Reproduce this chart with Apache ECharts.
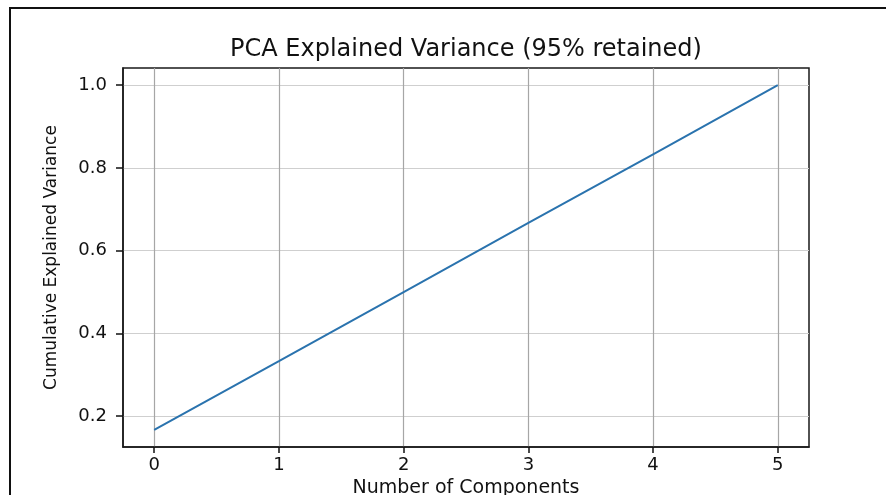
<!DOCTYPE html>
<html>
<head>
<meta charset="utf-8">
<title>PCA Explained Variance</title>
<script src="https://cdn.jsdelivr.net/npm/echarts@6/dist/echarts.min.js"></script>
<style>
  html, body { margin: 0; padding: 0; background: #fff; }
  #chart { width: 886px; height: 495px; }
</style>
</head>
<body>
<div id="chart"></div>
<script>
// Number of PCA components (x) and cumulative explained variance ratio (y)
const components = [0, 1, 2, 3, 4, 5];
const cumulativeVariance = [0.167, 0.333, 0.500, 0.667, 0.833, 1.000];
const xTicks = [0, 1, 2, 3, 4, 5];
const yTicks = [0.2, 0.4, 0.6, 0.8, 1.0];

const titleText = 'PCA Explained Variance (95% retained)';
const xName = 'Number of Components';
const yName = 'Cumulative Explained Variance';

// 5% padding on both axes around the data extent
function paddedExtent(values) {
  const lo = Math.min(...values), hi = Math.max(...values);
  const pad = (hi - lo) * 0.05;
  return [lo - pad, hi + pad];
}
const [xMin, xMax] = paddedExtent(components);
const [yMin, yMax] = paddedExtent(cumulativeVariance);

const points = components.map((c, i) => [c, cumulativeVariance[i]]);

const FONT = 'DejaVu Sans';
const grid = { left: 123, right: 77, top: 68, bottom: 48 };
const spine = { color: '#1a1a1a', width: 1.5 };

const chart = echarts.init(document.getElementById('chart'), null, { renderer: 'canvas' });

chart.setOption({
  animation: false,
  backgroundColor: '#fff',
  grid: {
    left: grid.left, right: grid.right, top: grid.top, bottom: grid.bottom,
    show: true, borderColor: spine.color, borderWidth: spine.width, backgroundColor: 'transparent',
    containLabel: false, outerBoundsMode: 'none'
  },
  graphic: [
    {
      type: 'rect', silent: true, z: 100,
      shape: { x: 10, y: 8, width: 920, height: 600 },
      style: { fill: 'none', stroke: '#111', lineWidth: 2 }
    },
    {
      type: 'text', silent: true, z: 100,
      x: grid.left + (886 - grid.left - grid.right) / 2, y: 50,
      style: {
        text: titleText, font: '24px "' + FONT + '"', fill: '#111',
        align: 'center', verticalAlign: 'middle',
        textAlign: 'center', textVerticalAlign: 'middle'
      }
    }
  ],
  xAxis: {
    type: 'value', min: xMin, max: xMax, position: 'bottom',
    name: xName, nameLocation: 'middle', nameGap: 31,
    nameTextStyle: { fontFamily: FONT, fontSize: 19, color: '#111' },
    axisLine: { show: true, onZero: false, lineStyle: { color: spine.color, width: spine.width } },
    axisTick: { show: true, inside: false, length: 6, customValues: xTicks,
                lineStyle: { color: '#111', width: 1.5 } },
    axisLabel: { show: true, customValues: xTicks, margin: 9,
                 fontFamily: FONT, fontSize: 18, color: '#111',
                 formatter: v => String(Math.round(v)) },
    splitLine: { show: true, lineStyle: { color: '#a6a6a6', width: 1.2 } }
  },
  yAxis: {
    type: 'value', min: yMin, max: yMax, position: 'left',
    name: yName, nameLocation: 'middle', nameGap: 63, nameRotate: 90,
    nameTextStyle: { fontFamily: FONT, fontSize: 17, color: '#111' },
    axisLine: { show: true, onZero: false, lineStyle: { color: spine.color, width: spine.width } },
    axisTick: { show: true, inside: false, length: 7, customValues: yTicks,
                lineStyle: { color: '#111', width: 1.5 } },
    axisLabel: { show: true, customValues: yTicks, margin: 16,
                 fontFamily: FONT, fontSize: 18, color: '#111',
                 formatter: v => v.toFixed(1) },
    splitLine: { show: true, lineStyle: { color: '#cfcfcf', width: 1 } }
  },
  series: [{
    type: 'line',
    data: points,
    showSymbol: false,
    symbol: 'none',
    lineStyle: { color: '#2a73ae', width: 2 },
    z: 5
  }]
});
</script>
</body>
</html>
